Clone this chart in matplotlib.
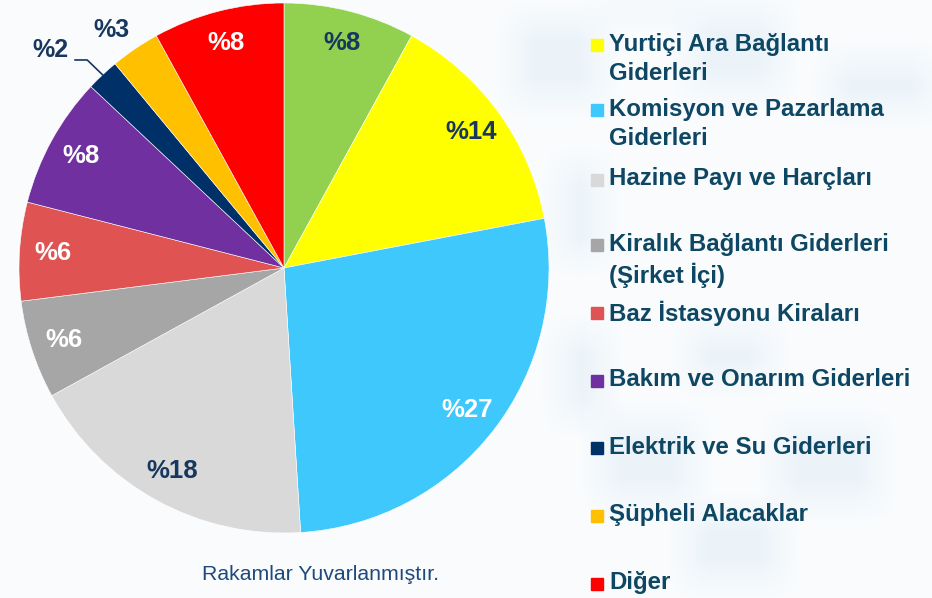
import numpy as np
import matplotlib.pyplot as plt
from matplotlib.patches import Rectangle

plt.rcParams['font.family'] = ['Liberation Sans', 'DejaVu Sans']

# slices, clockwise from 12 o'clock
values = [8, 14, 27, 18, 6, 6, 8, 2, 3, 8]
colors = ['#92d050', '#ffff00', '#3ec8fc', '#d9d9d9', '#a6a6a6',
          '#e05353', '#7030a0', '#003068', '#ffc000', '#ff0000']
label_colors = ['#17375e', '#17375e', 'white', '#17375e', 'white',
                'white', 'white', '#17375e', '#17375e', 'white']

legend_names = ['Yurtiçi Ara Bağlantı\nGiderleri',
                'Komisyon ve Pazarlama\nGiderleri',
                'Hazine Payı ve Harçları',
                'Kiralık Bağlantı Giderleri\n(Şirket İçi)',
                'Baz İstasyonu Kiraları',
                'Bakım ve Onarım Giderleri',
                'Elektrik ve Su Giderleri',
                'Şüpheli Alacaklar',
                'Diğer']
legend_colors = colors[1:]
legend_y = [45, 110, 180, 245, 313, 381, 448, 516, 584]

W, H = 932, 598
fig = plt.figure(figsize=(W / 100, H / 100), dpi=100)
fig.patch.set_facecolor('#fafcfe')

# soft pale-blue blocks in the background
bg = np.zeros((H, W))
blocks = [(515, 20, 600, 100), (603, 0, 690, 14), (690, 12, 780, 90),
          (560, 165, 600, 258), (560, 332, 604, 418), (600, 422, 694, 500),
          (687, 512, 780, 582), (777, 426, 878, 503), (690, 330, 770, 380),
          (830, 60, 932, 110)]
for x0, y0, x1, y1 in blocks:
    bg[y0:y1, x0:x1] = 1.0
k = np.ones(41) / 41
bg = np.apply_along_axis(lambda r: np.convolve(r, k, mode='same'), 1, bg)
bg = np.apply_along_axis(lambda c: np.convolve(c, k, mode='same'), 0, bg)
base = np.array([0.980, 0.988, 0.996])
tint = np.array([0.870, 0.925, 0.960])
img = base + (tint - base) * bg[..., None] * 0.5
bax = fig.add_axes([0, 0, 1, 1])
bax.imshow(img, extent=[0, W, H, 0], aspect='auto')
bax.axis('off')

cx, cy, r = 284, 268, 265
ax = fig.add_axes([(cx - r) / W, (H - cy - r) / H, 2 * r / W, 2 * r / H])
wedges, _ = ax.pie(values, colors=colors, startangle=90, counterclock=False,
                   radius=1.0, wedgeprops=dict(edgecolor='white', linewidth=0.4))
ax.set_xlim(-1, 1)
ax.set_ylim(-1, 1)
ax.axis('off')

total = sum(values)
start = 90.0
for i, v in enumerate(values):
    mid = np.deg2rad(start - 360.0 * v / total / 2)
    start -= 360.0 * v / total
    txt = '%' + str(v)
    if v == 2:
        # small slice: label outside with a leader line
        ex, ey = np.cos(mid), np.sin(mid)
        kx, ky = ex - 0.058, ey + 0.056
        ax.plot([ex, kx, kx - 0.046], [ey, ky, ky], color='#17375e', lw=1.2,
                clip_on=False)
        ax.text(kx - 0.14, ky + 0.038, txt, ha='center', va='center',
                fontsize=18, fontweight='bold', color=label_colors[i])
    elif v == 3:
        a = mid + np.deg2rad(1.7)
        ax.text(1.108 * np.cos(a), 1.108 * np.sin(a), txt, ha='center',
                va='center', fontsize=18, fontweight='bold',
                color=label_colors[i])
    else:
        ax.text(0.875 * np.cos(mid), 0.875 * np.sin(mid), txt, ha='center',
                va='center', fontsize=18.5, fontweight='bold',
                color=label_colors[i])

# legend drawn by hand
for name, c, y in zip(legend_names, legend_colors, legend_y):
    fig.patches.append(Rectangle((591 / W, 1 - (y + 6) / H), 12 / W, 12 / H,
                                 transform=fig.transFigure, color=c))
    fig.text(609 / W, 1 - (y - 12.5) / H, name, ha='left', va='top',
             fontsize=17.3, fontweight='bold', color='#0d4763',
             linespacing=1.36)

fig.text(320 / W, 1 - 575 / H, 'Rakamlar Yuvarlanmıştır.', ha='center',
         va='center', fontsize=15.3, color='#1f497d')

fig.savefig('out.png', dpi=100, facecolor=fig.get_facecolor())
